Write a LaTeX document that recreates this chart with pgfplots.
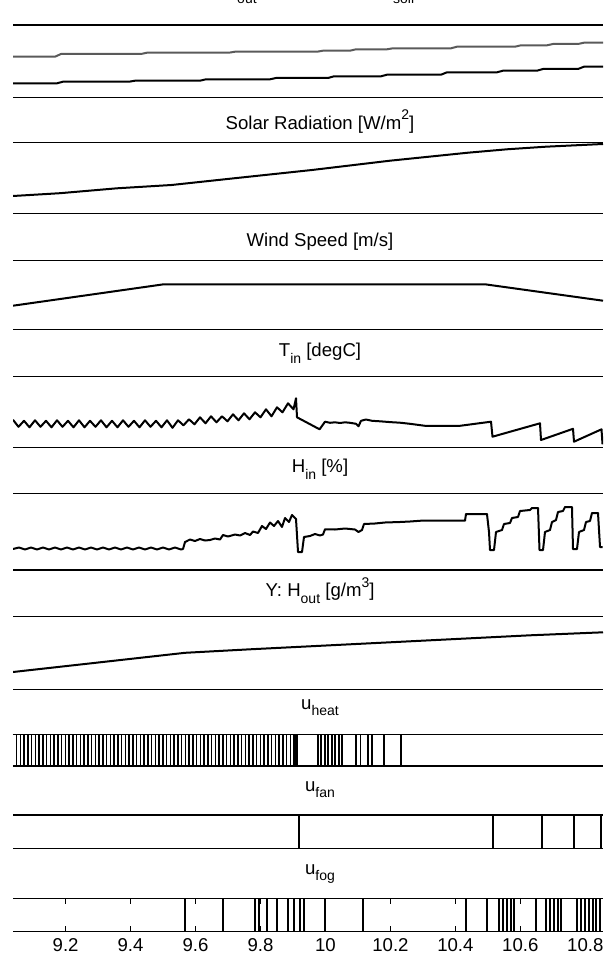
\documentclass[border=0pt]{standalone}
\usepackage{pgfplots}
\pgfplotsset{compat=1.18}
\usepackage{fontspec}
\setmainfont{Liberation Sans}

\definecolor{toutgrey}{RGB}{90,90,90}
\newcommand{\sub}[1]{\raisebox{-0.35em}{\fontsize{7}{7}\selectfont #1}}
\newcommand{\sups}[1]{\raisebox{0.5em}{\fontsize{7}{7}\selectfont #1}}

% 1 px of the reference = 0.5pt
\pgfplotsset{
  panel/.style={
    scale only axis, width=295pt, anchor=north west,
    xmin=9.038, xmax=10.8545,
    axis x line=box, axis y line=none,
    xtick=\empty, ytick=\empty,
    axis line style={line width=0.7pt, black},
    title style={at={(0.5,1)}, anchor=base, inner sep=0pt, xshift=6pt,
      font=\fontsize{9.3}{11}\selectfont},
  },
  sig/.style={black, line width=1pt, line join=round},
}

\begin{document}
\begin{tikzpicture}

% T_out / T_soil
\begin{axis}[panel, at={(6.5pt,-12.5pt)}, height=36.15pt, ymin=0, ymax=72.3,
  title={T\sub{out} [degC] versus T\sub{soil}}, title style={yshift=8.2pt}]
\addplot[sig, toutgrey] table {
9.0380 40.6
9.1673 40.6
9.1858 43.3
9.4321 43.3
9.4506 44.6
9.7030 44.6
9.7215 45.6
9.9740 45.6
9.9924 46.6
10.0756 46.6
10.0940 48.0
10.1895 48.0
10.2080 49.0
10.3865 49.0
10.4050 50.6
10.5836 50.6
10.6020 52.0
10.6821 52.0
10.7006 53.3
10.7775 53.3
10.7960 54.6
10.8545 54.6
};
\addplot[sig] table {
9.0380 14.0
9.1735 14.0
9.1919 15.6
9.3951 15.6
9.4136 16.6
9.6137 16.6
9.6322 18.0
9.8293 18.0
9.8477 19.3
10.0078 19.3
10.0263 21.0
10.1710 21.0
10.1895 22.6
10.3557 22.6
10.3742 25.0
10.5281 25.0
10.5466 26.6
10.6513 26.6
10.6698 28.3
10.7775 28.3
10.7960 30.6
10.8545 30.6
};
\end{axis}

% Solar radiation
\begin{axis}[panel, at={(6.5pt,-71.35pt)}, height=35.5pt, ymin=0, ymax=71,
  title={Solar Radiation [W/m\sups{2}]}, title style={yshift=0.75pt}]
\addplot[sig] table {
9.0380 17.7
9.1827 20.5
9.3582 25.4
9.5260 28.7
9.7184 35.4
9.9586 43.7
10.1987 53.0
10.4389 61.0
10.5589 64.4
10.6790 67.0
10.8545 69.7
};
\end{axis}

% Wind speed
\begin{axis}[panel, at={(6.5pt,-130.35pt)}, height=34.3pt, ymin=0, ymax=68.6,
  title={Wind Speed [m/s]}, title style={yshift=1pt}]
\addplot[sig] table {
9.0380 23.6
9.5020 45.0
10.4912 45.0
10.8545 28.6
};
\end{axis}

% T_in
\begin{axis}[panel, at={(6.5pt,-188.35pt)}, height=35.3pt, ymin=0, ymax=70.6,
  title={T\sub{in} [degC]}, title style={yshift=4pt}]
\addplot[sig] table {
9.0380 27.5
9.0549 20.5
9.0719 26.5
9.0888 20.0
9.1057 27.0
9.1227 20.5
9.1396 26.5
9.1565 20.0
9.1735 27.0
9.1904 20.5
9.2073 26.5
9.2243 20.0
9.2412 27.0
9.2581 20.0
9.2751 26.5
9.2920 20.5
9.3089 27.0
9.3259 20.0
9.3428 26.5
9.3597 20.0
9.3767 27.0
9.3936 20.5
9.4105 26.5
9.4275 20.0
9.4444 27.0
9.4613 20.5
9.4783 26.5
9.4952 20.0
9.5121 27.0
9.5291 19.5
9.5460 27.0
9.5629 22.0
9.5799 28.0
9.5968 23.0
9.6137 30.0
9.6307 24.0
9.6476 31.0
9.6645 25.0
9.6815 31.0
9.6984 26.0
9.7153 33.0
9.7323 27.0
9.7492 34.0
9.7661 28.0
9.7831 35.0
9.8000 30.0
9.8169 38.0
9.8339 31.0
9.8508 40.0
9.8677 35.0
9.8847 44.0
9.9016 38.0
9.9093 49.0
9.9124 30.0
9.9820 18.0
9.9986 25.6
10.0140 24.5
10.0294 25.0
10.0448 24.3
10.0602 25.0
10.0756 24.5
10.0940 23.5
10.1017 21.0
10.1094 26.5
10.1248 27.8
10.1433 26.5
10.1679 26.0
10.1987 25.2
10.2295 24.6
10.2603 23.5
10.3065 21.5
10.4142 21.5
10.5097 25.6
10.5143 10.6
10.6605 24.0
10.6636 7.3
10.7621 18.5
10.7652 5.6
10.8499 18.0
10.8530 3.0
};
\end{axis}

% H_in
\begin{axis}[panel, at={(6.5pt,-246.65pt)}, height=38.35pt, ymin=0, ymax=76.7,
  title={H\sub{in} [\%]}, title style={yshift=4.25pt}]
\addplot[sig] table {
9.0380 21.0
9.0565 22.5
9.0749 20.5
9.0934 22.5
9.1119 20.5
9.1304 22.5
9.1488 20.5
9.1673 22.5
9.1858 20.5
9.2043 22.5
9.2227 20.5
9.2412 22.5
9.2597 20.5
9.2781 22.5
9.2966 20.5
9.3151 22.5
9.3336 20.5
9.3520 22.5
9.3705 20.5
9.3890 22.5
9.4075 20.5
9.4259 22.5
9.4444 20.5
9.4629 22.5
9.4814 20.5
9.4998 22.5
9.5183 20.5
9.5368 22.5
9.5552 20.5
9.5614 21.0
9.5676 28.0
9.5829 30.5
9.5983 29.0
9.6137 31.0
9.6291 29.5
9.6445 30.0
9.6599 31.5
9.6753 30.5
9.6845 35.0
9.6999 33.5
9.7215 35.5
9.7369 34.5
9.7523 37.0
9.7677 35.0
9.7769 38.5
9.7923 37.0
9.8046 44.0
9.8169 41.0
9.8293 47.5
9.8416 44.0
9.8539 49.0
9.8662 43.0
9.8754 52.0
9.8877 48.0
9.8970 55.0
9.9093 51.0
9.9155 18.0
9.9278 18.0
9.9339 33.0
9.9524 34.0
9.9678 36.0
9.9832 34.5
9.9924 35.5
9.9986 40.7
10.0294 40.5
10.0602 41.5
10.0909 40.5
10.1017 38.0
10.1125 40.0
10.1187 46.0
10.1525 46.5
10.1833 47.5
10.2295 48.0
10.2603 48.5
10.2942 49.3
10.4296 49.3
10.4327 56.0
10.4973 56.0
10.5035 38.0
10.5066 20.0
10.5189 20.0
10.5251 38.0
10.5435 40.0
10.5497 46.0
10.5682 47.0
10.5743 52.0
10.5928 53.0
10.5990 59.0
10.6297 60.0
10.6359 62.0
10.6544 62.0
10.6590 20.0
10.6698 20.0
10.6759 38.0
10.6913 40.0
10.6975 48.0
10.7098 50.0
10.7160 58.0
10.7313 59.0
10.7375 63.0
10.7590 63.0
10.7621 21.0
10.7744 21.0
10.7806 38.0
10.7960 40.0
10.8021 48.0
10.8145 49.0
10.8207 57.0
10.8391 57.0
10.8453 23.0
10.8530 23.0
};
\end{axis}

% Y: H_out
\begin{axis}[panel, at={(6.5pt,-308.35pt)}, height=36.3pt, ymin=0, ymax=72.6,
  title={Y: H\sub{out} [g/m\sups{3}]}, title style={yshift=4pt}]
\addplot[sig] table {
9.0380 17.3
9.3059 27.0
9.5676 36.5
9.7677 40.0
10.0756 45.0
10.3834 50.0
10.6297 54.0
10.8545 57.0
};
\end{axis}

% u_heat
\begin{axis}[panel, at={(6.5pt,-367.15pt)}, height=15.85pt, ymin=0, ymax=1,
  clip=false, title={u\sub{heat}}, title style={yshift=6.5pt}]
\addplot[sig, line width=0.8pt, const plot mark left] table {
9.0380 1
9.0488 0
9.0611 1
9.0719 0
9.0842 1
9.0950 0
9.1073 1
9.1181 0
9.1304 1
9.1412 0
9.1535 1
9.1642 0
9.1765 1
9.1873 0
9.1996 1
9.2104 0
9.2227 1
9.2335 0
9.2458 1
9.2566 0
9.2689 1
9.2797 0
9.2920 1
9.3028 0
9.3151 1
9.3259 0
9.3382 1
9.3490 0
9.3613 1
9.3721 0
9.3844 1
9.3951 0
9.4075 1
9.4182 0
9.4305 1
9.4413 0
9.4536 1
9.4644 0
9.4767 1
9.4875 0
9.4998 1
9.5106 0
9.5229 1
9.5337 0
9.5460 1
9.5568 0
9.5691 1
9.5799 0
9.5922 1
9.6030 0
9.6153 1
9.6261 0
9.6384 1
9.6491 0
9.6615 1
9.6722 0
9.6845 1
9.6953 0
9.7076 1
9.7184 0
9.7307 1
9.7415 0
9.7538 1
9.7646 0
9.7769 1
9.7877 0
9.8000 1
9.8108 0
9.8231 1
9.8339 0
9.8462 1
9.8570 0
9.8693 1
9.8801 0
9.8924 1
9.9032 0
9.9062 1
9.9124 0
9.9770 1
9.9863 0
9.9986 1
10.0078 0
10.0202 1
10.0294 0
10.0417 1
10.0509 0
10.0940 1
10.1079 0
10.1310 1
10.1433 0
10.1802 1
10.2326 0
10.8545 0
};
\end{axis}

% u_fan
\begin{axis}[panel, at={(6.5pt,-407.5pt)}, height=16.85pt, ymin=0, ymax=1,
  clip=false, title={u\sub{fan}}, title style={yshift=6pt}]
\addplot[sig, ycomb] table {
9.9185 1
10.5158 1
10.6652 1
10.7652 1
10.8483 1
};
\end{axis}

% u_fog
\begin{axis}[panel, at={(6.5pt,-449.15pt)}, height=16.7pt, ymin=0, ymax=1,
  clip=false, title={u\sub{fog}}, title style={yshift=6pt},
  xtick={9.2,9.4,9.6,9.8,10,10.2,10.4,10.6,10.8},
  major tick length=2.75pt, tick style={black, line width=0.5pt},
  xticklabel style={font=\fontsize{9.3}{11}\selectfont, inner sep=0pt, yshift=-3pt},
  /pgf/number format/assume math mode=true]
\addplot[sig, ycomb] table {
9.5676 1
9.6845 1
9.7831 1
9.7954 1
9.8200 1
9.8508 1
9.8847 1
9.9031 1
9.9216 1
9.9339 1
9.9986 1
10.1156 1
10.4327 1
10.4973 1
10.5343 1
10.5466 1
10.5589 1
10.5712 1
10.5805 1
10.6482 1
10.6790 1
10.6913 1
10.7036 1
10.7159 1
10.7252 1
10.7744 1
10.7868 1
10.7991 1
10.8114 1
10.8237 1
10.8329 1
10.8453 1
};
\end{axis}

\pgfresetboundingbox
\path[use as bounding box] (0,0) rectangle (305.5pt,-478pt);
\end{tikzpicture}
\end{document}
